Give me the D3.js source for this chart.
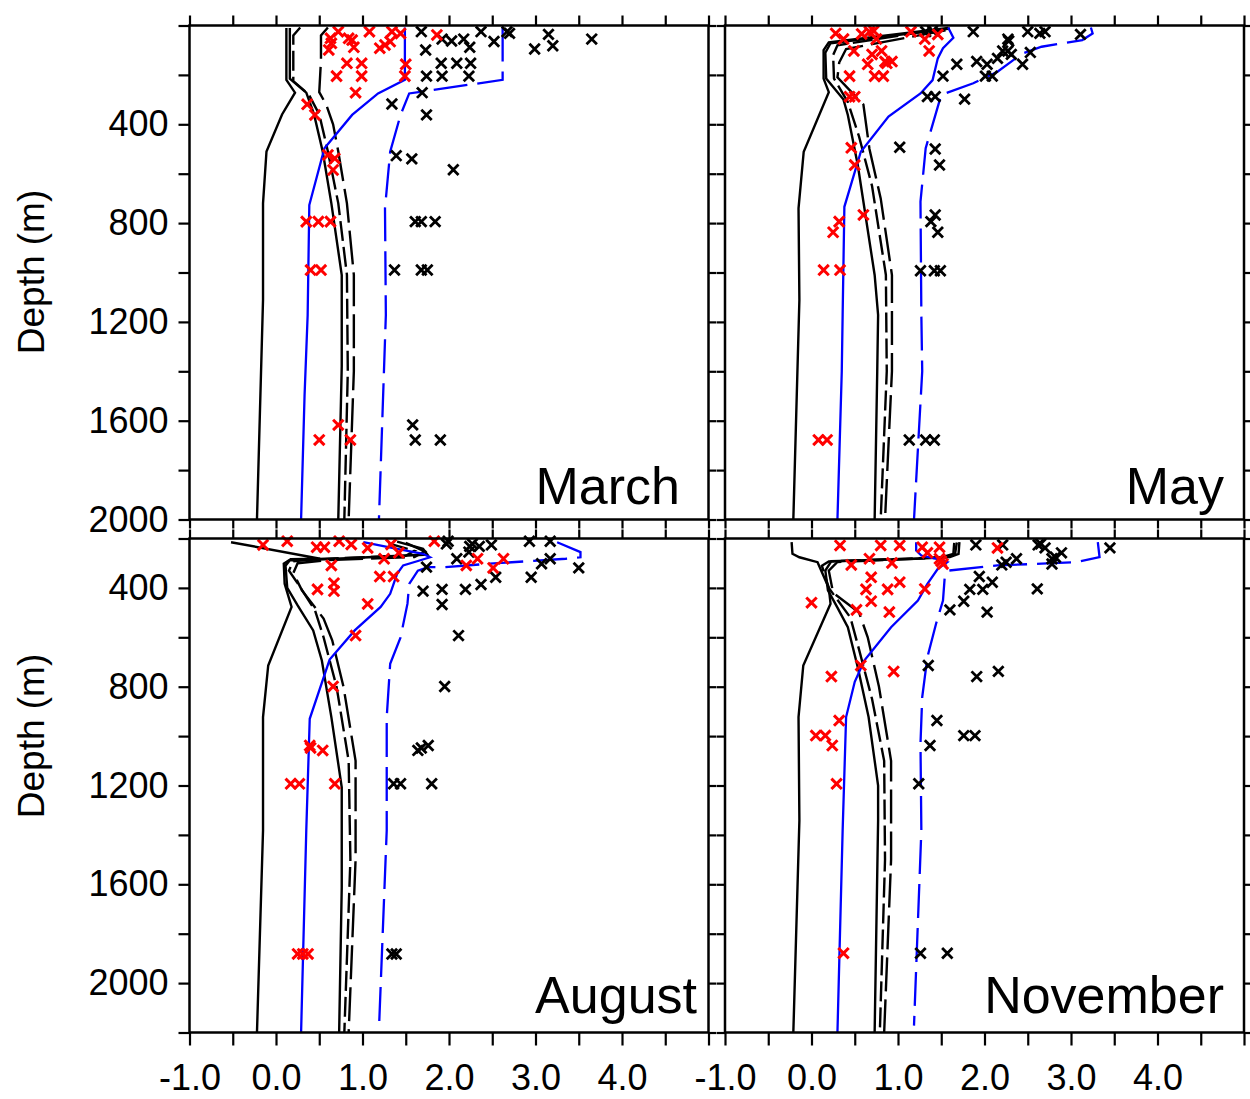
<!DOCTYPE html>
<html>
<head>
<meta charset="utf-8">
<script src="https://cdn.jsdelivr.net/npm/d3@7"></script>
<style>
body { margin: 0; background: #fff; }
svg { font-family: "Liberation Sans", Arial, sans-serif; }
</style>
</head>
<body>
<script>
// axis values
var months = ['March', 'May', 'August', 'November'];
var xTicks = [-1, -0.5, 0, 0.5, 1, 1.5, 2, 2.5, 3, 3.5, 4, 4.5, 5];
var xLabels = [-1, 0, 1, 2, 3, 4];
var depthTicksTop = [0, 200, 400, 600, 800, 1000, 1200, 1400, 1600, 1800, 2000];
var depthTicksBottom = [200, 400, 600, 800, 1000, 1200, 1400, 1600, 1800, 2000, 2200];
var depthLabels = [400, 800, 1200, 1600, 2000];

// profiles: [value, depth]
var marchSolidA = [[0.12,10],[0.12,220],[0.22,272],[0.07,360],[-0.11,510],[-0.15,720],[-0.15,1110],[-0.22,2000]];
var marchSolidB = [[0.16,10],[0.16,215],[0.35,272],[0.44,360],[0.54,510],[0.64,720],[0.76,1010],[0.76,1380],[0.72,2000]];
var marchDashA = [[0.28,8],[0.2,40],[0.2,225],[0.38,280],[0.5,360],[0.6,510],[0.72,720],[0.82,1010],[0.83,1400],[0.79,2000]];
var marchDashB = [[0.6,8],[0.52,40],[0.52,140],[0.5,270],[0.58,320],[0.66,400],[0.72,510],[0.82,720],[0.9,1010],[0.9,1400],[0.84,2000]];
var marchBlue = [[1.49,8],[1.49,220],[1.18,275],[0.88,362],[0.56,497],[0.385,727],[0.366,1172],[0.33,1500],[0.29,2000]];
var marchBlueDash = [[2.62,8],[2.62,220],[1.54,275],[1.44,362],[1.32,511],[1.26,740],[1.27,1172],[1.19,2000]];
var marchRed = [[0.72,25],[0.63,52],[0.64,72],[0.61,99],[0.84,52],[0.88,59],[0.9,88],[1.08,25],[1.34,25],[1.44,32],[1.2,92],[1.26,79],[1.32,65],[1.86,38],
  [0.82,153],[0.99,153],[1.5,157],[0.7,205],[0.99,205],[1.49,205],[0.92,272],[0.36,319],[0.45,362],[0.6,524],[0.68,538],[0.66,585],
  [0.35,794],[0.49,794],[0.63,794],[0.4,990],[0.52,990],[0.72,1617],[0.5,1678],[0.86,1678]];
var marchBlack = [[1.68,25],[1.92,55],[2.03,63],[2.17,55],[2.24,88],[2.37,25],[2.52,65],[2.67,25],[2.7,32],[2.99,95],[3.15,36],[3.2,82],[3.65,55],
  [1.73,99],[1.91,153],[2.09,153],[2.25,153],[1.74,205],[1.92,205],[2.23,205],[1.69,272],[1.34,318],[1.74,362],[1.39,527],[1.57,540],[2.05,584],
  [1.61,794],[1.68,794],[1.84,794],[1.37,990],[1.68,990],[1.75,990],[1.58,1617],[1.61,1678],[1.9,1678]];

var maySolidA = [[1.58,10],[0.2,68],[0.14,100],[0.14,215],[0.2,270],[-0.09,511],[-0.15,740],[-0.14,1110],[-0.21,2000]];
var maySolidB = [[1.6,12],[0.22,72],[0.16,110],[0.17,215],[0.37,300],[0.42,362],[0.535,565],[0.73,1010],[0.77,1172],[0.76,1400],[0.73,2000]];
var mayDashA = [[1.3,25],[0.3,80],[0.25,120],[0.26,215],[0.42,310],[0.55,450],[0.7,650],[0.86,1010],[0.87,1400],[0.8,2000]];
var mayDashB = [[1.55,20],[0.4,95],[0.32,150],[0.3,210],[0.6,320],[0.67,500],[0.8,700],[0.93,1010],[0.93,1400],[0.85,2000]];
var mayBlue = [[1.58,8],[1.64,50],[1.52,92],[1.46,133],[1.4,221],[1.26,275],[0.89,369],[0.57,511],[0.38,734],[0.36,1172],[0.35,1400],[0.3,2000]];
var mayBlueDash = [[3.23,8],[3.25,32],[3.13,59],[2.66,86],[2.44,113],[2.15,187],[1.87,234],[1.5,281],[1.32,497],[1.26,713],[1.27,1172],[1.28,1400],[1.185,2000]];
var mayRed = [[0.28,32],[0.37,55],[0.58,34],[0.67,25],[0.72,22],[0.75,55],[1.15,25],[1.31,55],[1.46,36],[0.49,103],[0.7,117],[0.81,103],
  [0.65,157],[0.85,146],[0.87,153],[0.93,146],[1.36,103],[0.44,205],[0.73,205],[0.83,205],[0.44,288],[0.5,288],[0.46,495],[0.5,565],
  [0.6,767],[0.32,794],[0.25,837],[0.14,990],[0.33,990],[0.08,1678],[0.18,1678]];
var mayBlack = [[1.32,25],[1.4,22],[1.87,25],[2.27,55],[2.28,63],[2.5,25],[2.64,32],[2.7,25],[3.11,36],[2.21,103],[2.27,103],[2.31,117],[2.53,109],
  [2.15,133],[1.68,157],[1.91,146],[2.03,157],[2.44,157],[1.52,205],[2.01,205],[2.09,205],[1.34,288],[1.43,288],[1.77,298],[1.02,493],
  [1.43,500],[1.48,565],[1.43,767],[1.38,794],[1.46,837],[1.26,993],[1.42,993],[1.49,993],[1.13,1678],[1.32,1678],[1.42,1678]];

var augSolidA = [[-0.52,215],[0.51,282],[0.17,284],[0.09,302],[0.1,383],[0.18,477],[-0.09,714],[-0.15,923],[-0.15,1382],[-0.22,2200]];
var augSolidB = [[1.4,213],[1.7,242],[1.75,265],[0.5,285],[0.16,288],[0.11,310],[0.13,400],[0.25,471],[0.43,572],[0.53,694],[0.64,923],[0.76,1207],[0.76,1612],[0.73,2200]];
var augDashA = [[1.3,220],[1.6,250],[1.5,270],[0.45,283],[0.2,292],[0.15,330],[0.24,376],[0.45,490],[0.55,600],[0.7,800],[0.84,1100],[0.86,1500],[0.79,2200]];
var augDashB = [[1.5,218],[1.72,252],[1.6,275],[0.6,287],[0.25,300],[0.2,340],[0.3,410],[0.55,524],[0.65,612],[0.78,800],[0.92,1100],[0.92,1500],[0.84,2200]];
var augBlue = [[1.01,215],[1.4,242],[1.7,262],[1.78,276],[1.66,289],[1.47,309],[1.4,343],[1.32,424],[1.21,477],[0.91,572],[0.62,690],[0.39,930],[0.35,1382],[0.29,2200]];
var augBlueDash = [[3.25,215],[3.52,255],[3.52,276],[3.35,282],[2.47,302],[1.95,316],[1.76,316],[1.64,330],[1.54,384],[1.52,464],[1.44,600],[1.32,707],[1.28,923],[1.28,1382],[1.19,2190]];
var augRed = [[-0.15,226],[0.13,211],[0.47,235],[0.56,235],[0.73,211],[0.87,224],[1.06,238],[1.33,224],[1.42,258],[1.83,211],[1.25,282],
  [0.64,309],[1.2,354],[1.36,354],[0.48,406],[0.67,381],[0.67,413],[1.06,465],[0.92,593],[0.66,799],[0.39,1038],[0.4,1048],[0.54,1058],
  [0.17,1193],[0.27,1193],[0.68,1193],[2.2,309],[2.33,282],[2.51,319],[2.63,282],[0.25,1882],[0.31,1882],[0.37,1882]];
var augBlack = [[1.97,222],[1.99,211],[2.24,232],[2.27,222],[2.35,232],[2.49,226],[2.93,211],[3.17,211],[2.09,282],[2.23,255],[1.74,316],
  [3.07,302],[3.17,282],[3.5,319],[2.54,357],[2.95,357],[2.37,386],[1.7,413],[1.92,406],[2.19,406],[1.92,467],[2.11,593],[1.95,799],
  [1.64,1058],[1.68,1048],[1.76,1038],[1.36,1193],[1.44,1193],[1.8,1193],[1.34,1882],[1.39,1882]];

var novSolidA = [[-0.23,215],[-0.22,262],[-0.14,276],[0.07,296],[0.2,400],[0.22,464],[-0.095,714],[-0.15,923],[-0.14,1342],[-0.21,2200]];
var novSolidB = [[1.71,215],[1.7,262],[1.6,275],[1.2,282],[0.23,292],[0.16,330],[0.19,410],[0.3,480],[0.42,559],[0.535,721],[0.66,923],[0.77,1200],[0.77,1342],[0.73,2200]];
var novDashA = [[1.65,218],[1.64,262],[1.5,276],[0.2,293],[0.12,310],[0.2,400],[0.45,520],[0.55,650],[0.7,850],[0.84,1100],[0.85,1500],[0.79,2200]];
var novDashB = [[1.68,216],[1.66,262],[1.55,277],[0.3,295],[0.2,330],[0.25,420],[0.55,500],[0.65,600],[0.78,800],[0.92,1100],[0.92,1500],[0.84,2200]];
var novBlue = [[1.21,215],[1.21,249],[1.27,269],[1.46,283],[1.57,296],[1.46,323],[1.34,384],[1.23,451],[0.92,559],[0.61,694],[0.5,780],[0.4,923],[0.36,1382],[0.3,2200]];
var novBlueDash = [[3.31,215],[3.33,275],[3.05,296],[2.66,302],[2.15,309],[1.58,330],[1.54,357],[1.52,451],[1.44,545],[1.34,680],[1.28,842],[1.26,1031],[1.27,1382],[1.185,2172]];
var novRed = [[0.33,228],[0.8,228],[1.02,228],[1.28,235],[1.48,235],[1.34,258],[2.15,238],[0.67,282],[0.46,307],[0.93,299],[1.48,282],[1.52,303],
  [1.5,292],[0.69,357],[0.63,406],[0.88,406],[1.02,377],[1.31,404],[0.0,460],[0.69,454],[0.52,489],[0.9,498],[0.57,714],[0.23,759],
  [0.95,738],[0.32,937],[0.05,998],[0.16,998],[0.24,1038],[0.29,1193],[0.37,1879]];
var novBlack = [[1.9,226],[2.21,226],[2.62,226],[2.65,222],[2.7,238],[2.89,258],[2.78,282],[2.82,276],[2.78,303],[3.45,238],[2.37,282],
  [2.25,296],[2.2,307],[1.94,354],[2.09,377],[1.83,406],[1.98,406],[2.61,404],[1.76,454],[1.6,489],[2.03,498],[1.35,714],[1.91,759],
  [2.16,738],[1.45,937],[1.76,998],[1.89,998],[1.37,1038],[1.24,1193],[1.26,1879],[1.57,1879]];

// layout
var width = 1250, height = 1099;
var pw = 519, ph = 494;
var panels = [
  { name: months[0], left: 189.5, top: 25.5, depth: [0, 2000], ticks: depthTicksTop, row: 0, col: 0,
    solidA: marchSolidA, solidB: marchSolidB, dashA: marchDashA, dashB: marchDashB, blue: marchBlue, blueDash: marchBlueDash, red: marchRed, black: marchBlack },
  { name: months[1], left: 725, top: 25.5, depth: [0, 2000], ticks: depthTicksTop, row: 0, col: 1,
    solidA: maySolidA, solidB: maySolidB, dashA: mayDashA, dashB: mayDashB, blue: mayBlue, blueDash: mayBlueDash, red: mayRed, black: mayBlack },
  { name: months[2], left: 189.5, top: 538.5, depth: [200, 2200], ticks: depthTicksBottom, row: 1, col: 0,
    solidA: augSolidA, solidB: augSolidB, dashA: augDashA, dashB: augDashB, blue: augBlue, blueDash: augBlueDash, red: augRed, black: augBlack },
  { name: months[3], left: 725, top: 538.5, depth: [200, 2200], ticks: depthTicksBottom, row: 1, col: 1,
    solidA: novSolidA, solidB: novSolidB, dashA: novDashA, dashB: novDashB, blue: novBlue, blueDash: novBlueDash, red: novRed, black: novBlack }
];
var labelPos = [[680, 504], [1224, 504], [697, 1013], [1224, 1013]];

var svg = d3.select('body').append('svg')
  .attr('width', width)
  .attr('height', height);

function fmtX(d) {
  return xLabels.indexOf(d) >= 0 ? d.toFixed(1) : '';
}
function fmtY(d) {
  return depthLabels.indexOf(d) >= 0 ? d : '';
}
function styleAxis(g) {
  g.select('.domain').remove();
  g.selectAll('.tick line').attr('stroke', '#000').attr('stroke-width', 2.2);
  g.selectAll('text').attr('font-size', 36).attr('fill', '#000')
    .attr('font-family', '"Liberation Sans", Arial, sans-serif');
}

panels.forEach(function (p, i) {
  var x = d3.scaleLinear().domain([-1, 5]).range([p.left, p.left + pw]);
  var y = d3.scaleLinear().domain(p.depth).range([p.top, p.top + ph]);
  var g = svg.append('g');

  // ticks all round
  g.append('g').attr('transform', 'translate(0,' + p.top + ')')
    .call(d3.axisTop(x).tickValues(xTicks).tickSize(p.row == 0 ? 10 : 9).tickFormat(''))
    .call(styleAxis);
  g.append('g').attr('transform', 'translate(0,' + (p.top + ph) + ')')
    .call(d3.axisBottom(x).tickValues(xTicks).tickSize(p.row == 1 ? 13 : 9)
      .tickPadding(19).tickFormat(p.row == 1 ? fmtX : function () { return ''; }))
    .call(styleAxis);
  g.append('g').attr('transform', 'translate(' + p.left + ',0)')
    .call(d3.axisLeft(y).tickValues(p.ticks).tickSize(p.col == 0 ? 11 : 8)
      .tickPadding(10).tickFormat(p.col == 0 ? fmtY : function () { return ''; }))
    .call(styleAxis);
  g.append('g').attr('transform', 'translate(' + (p.left + pw) + ',0)')
    .call(d3.axisRight(y).tickValues(p.ticks).tickSize(8).tickFormat(''))
    .call(styleAxis);

  var line = d3.line()
    .x(function (d) { return x(d[0]); })
    .y(function (d) { return y(d[1]); });

  var series = [
    { data: p.solidA, color: '#000', dash: null, w: 2.4 },
    { data: p.solidB, color: '#000', dash: null, w: 2.4 },
    { data: p.dashA, color: '#000', dash: '20,6', w: 2.4 },
    { data: p.dashB, color: '#000', dash: '34,8', w: 2.4 },
    { data: p.blue, color: '#0000ff', dash: null, w: 2.3 },
    { data: p.blueDash, color: '#0000ff', dash: '34,10', w: 2.3 }
  ];
  g.selectAll('path.profile')
    .data(series)
    .enter()
    .append('path')
    .attr('class', 'profile')
    .attr('d', function (d) { return line(d.data); })
    .attr('fill', 'none')
    .attr('stroke', function (d) { return d.color; })
    .attr('stroke-width', function (d) { return d.w; })
    .attr('stroke-dasharray', function (d) { return d.dash; });

  var cross = 'M-5.2,-5.2L5.2,5.2M-5.2,5.2L5.2,-5.2';
  g.selectAll('path.obsBlack')
    .data(p.black)
    .enter()
    .append('path')
    .attr('class', 'obsBlack')
    .attr('d', cross)
    .attr('transform', function (d) { return 'translate(' + x(d[0]) + ',' + y(d[1]) + ')'; })
    .attr('stroke', '#000')
    .attr('stroke-width', 2.8);
  g.selectAll('path.obsRed')
    .data(p.red)
    .enter()
    .append('path')
    .attr('class', 'obsRed')
    .attr('d', cross)
    .attr('transform', function (d) { return 'translate(' + x(d[0]) + ',' + y(d[1]) + ')'; })
    .attr('stroke', '#ff0000')
    .attr('stroke-width', 3);

  // frame
  g.append('rect')
    .attr('x', p.left).attr('y', p.top)
    .attr('width', pw).attr('height', ph)
    .attr('fill', 'none')
    .attr('stroke', '#000')
    .attr('stroke-width', 2.5);

  g.append('text')
    .attr('x', labelPos[i][0])
    .attr('y', labelPos[i][1])
    .attr('text-anchor', 'end')
    .attr('font-size', 52)
    .text(p.name);
});

// y titles
[272, 736].forEach(function (cy) {
  svg.append('text')
    .attr('transform', 'translate(44,' + cy + ') rotate(-90)')
    .attr('text-anchor', 'middle')
    .attr('font-size', 37)
    .text('Depth (m)');
});
</script>
</body>
</html>
